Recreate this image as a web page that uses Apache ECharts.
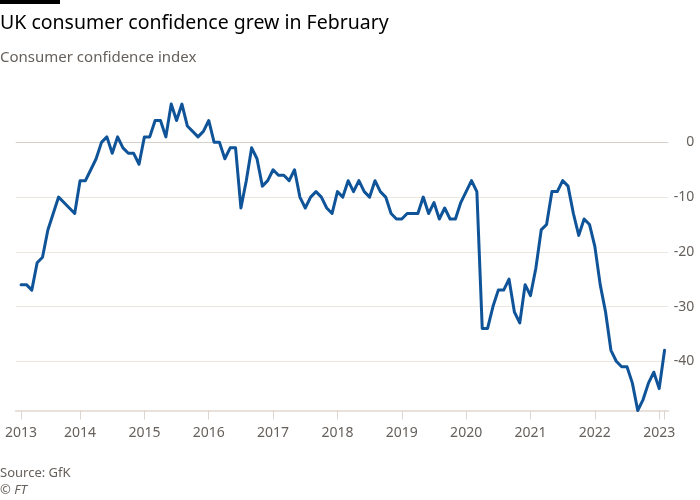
<!DOCTYPE html>
<html><head><meta charset="utf-8">
<script src="https://cdn.jsdelivr.net/npm/echarts@6/dist/echarts.min.js"></script>
<style>html,body{margin:0;padding:0;background:#fff}#c{width:700px;height:500px}</style>
</head><body><div id="c"></div>
<script>
const titleText = 'UK consumer confidence grew in February';
const subtitleText = 'Consumer confidence index';
const sourceText = 'Source: GfK';
const creditText = '© FT';

// Monthly GfK consumer confidence index, Feb 2013 .. Feb 2023
const startYear = 2013;
const startMonth = 2; // February
const values = [
  -26, -26, -27, -22, -21, -16, -13, -10, -11, -12, -13,          // Feb-Dec 2013
  -7, -7, -5, -3, 0, 1, -2, 1, -1, -2, -2, -4,                    // 2014
  1, 1, 4, 4, 1, 7, 4, 7, 3, 2, 1, 2,                             // 2015
  4, 0, 0, -3, -1, -1, -12, -7, -1, -3, -8, -7,                   // 2016
  -5, -6, -6, -7, -5, -10, -12, -10, -9, -10, -12, -13,           // 2017
  -9, -10, -7, -9, -7, -9, -10, -7, -9, -10, -13, -14,            // 2018
  -14, -13, -13, -13, -10, -13, -11, -14, -12, -14, -14, -11,     // 2019
  -9, -7, -9, -34, -34, -30, -27, -27, -25, -31, -33, -26,        // 2020
  -28, -23, -16, -15, -9, -9, -7, -8, -13, -17, -14, -15,         // 2021
  -19, -26, -31, -38, -40, -41, -41, -44, -49, -47, -44, -42,     // 2022
  -45, -38                                                        // Jan-Feb 2023
];
const yTickValues = [-40, -30, -20, -10, 0];
const xLabelYears = [2013, 2014, 2015, 2016, 2017, 2018, 2019, 2020, 2021, 2022, 2023];

// month index: 0 = Jan of startYear
const firstIdx = startMonth - 1;
const lastIdx = firstIdx + values.length - 1;
const seriesData = values.map((v, i) => [firstIdx + i, v]);
// label positions: first data point for the first year, then each January
const xLabelPositions = xLabelYears.map((y, i) => i === 0 ? firstIdx : (y - startYear) * 12);
const xTickPositions = xLabelPositions.concat([lastIdx]);

const grey = '#66605c';
const fontFamily = '"Noto Sans", sans-serif';

const chart = echarts.init(document.getElementById('c'), null, {renderer: 'canvas'});
chart.setOption({
  animation: false,
  backgroundColor: '#fff',
  grid: {left: 15.7, right: 31.7, top: 76.7, bottom: 89.5, containLabel: false},
  xAxis: {
    type: 'value',
    min: 0,
    max: lastIdx + 0.7,
    axisLine: {show: true, onZero: false, lineStyle: {color: '#e8e1db', width: 2}},
    axisTick: {show: true, length: 9, customValues: xTickPositions, lineStyle: {color: '#ddd5ce', width: 1}},
    axisLabel: {
      show: true, customValues: xLabelPositions, margin: 16,
      color: grey, fontSize: 14, fontFamily: fontFamily,
      formatter: v => String(startYear + Math.floor(v / 12))
    },
    splitLine: {show: false}
  },
  yAxis: {
    type: 'value',
    position: 'right',
    min: -49,
    max: 12,
    axisLine: {show: false},
    axisTick: {show: false, customValues: yTickValues},
    axisLabel: {
      show: true, customValues: yTickValues, align: 'right', margin: 26,
      color: grey, fontSize: 14, fontFamily: fontFamily,
      formatter: v => String(v)
    },
    splitLine: {show: true, lineStyle: {color: ['#ece6e1', '#ece6e1', '#ece6e1', '#ece6e1', '#d6d0cb'], width: 1}}
  },
  series: [{
    type: 'line',
    data: seriesData,
    showSymbol: false,
    clip: false,
    lineStyle: {color: '#0f5499', width: 3, join: 'round', cap: 'round'},
    z: 5
  }],
  graphic: [
    {type: 'rect', left: 0, top: 0, shape: {x: 0, y: 0, width: 60, height: 4}, style: {fill: '#000'}},
    {type: 'text', x: 0, y: 23.5, style: {text: titleText, fill: '#000', font: 'normal 19.5px ' + fontFamily, verticalAlign: 'middle'}},
    {type: 'text', x: 0, y: 57.5, style: {text: subtitleText, fill: grey, font: 'normal 15px ' + fontFamily, verticalAlign: 'middle'}},
    {type: 'text', x: 0, y: 473.5, style: {text: sourceText, fill: grey, font: 'normal 13px ' + fontFamily, verticalAlign: 'middle'}},
    {type: 'text', x: 0, y: 490.5, style: {text: creditText, fill: grey, font: 'italic 13px ' + fontFamily, verticalAlign: 'middle'}}
  ]
});
</script>
</body></html>
